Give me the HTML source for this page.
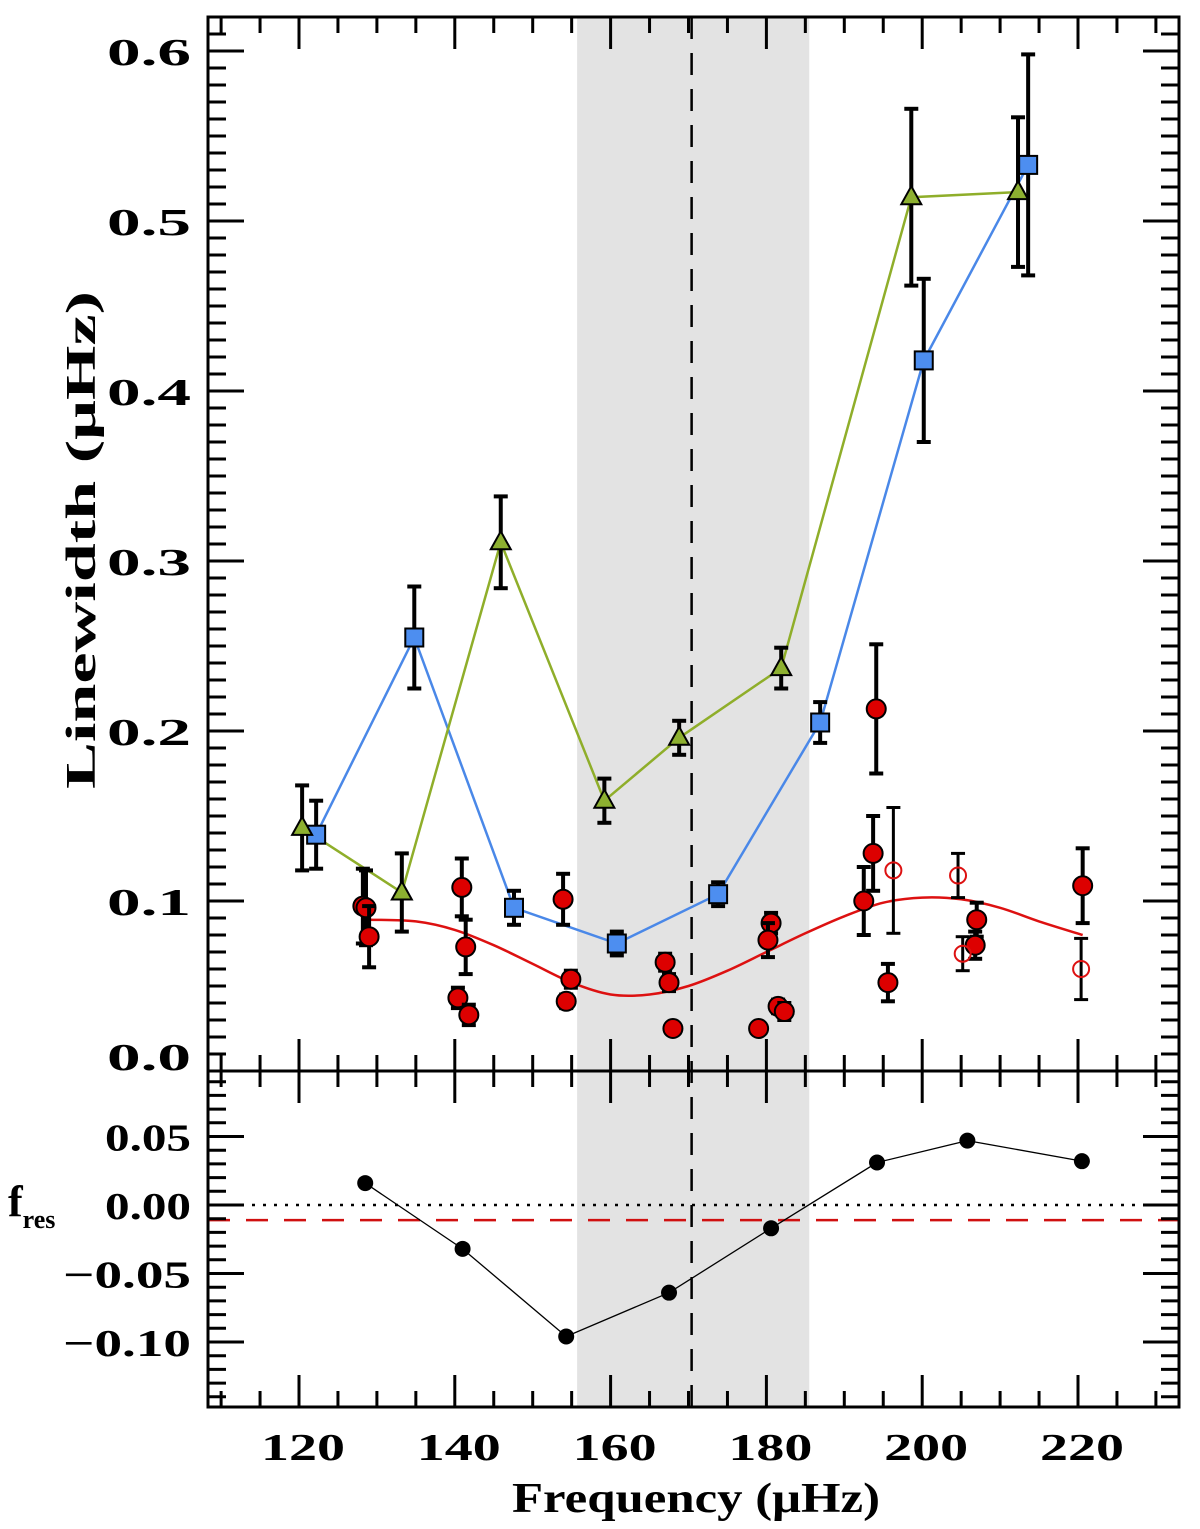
<!DOCTYPE html>
<html><head><meta charset="utf-8">
<style>
html,body{margin:0;padding:0;background:#fff;}
svg{display:block;}
text{font-family:"Liberation Serif",serif;font-weight:bold;fill:#000;}
</style></head>
<body>
<svg id="chart" width="1200" height="1529" viewBox="0 0 1200 1529" xmlns="http://www.w3.org/2000/svg">
<g id="layer"></g>
</svg>
<script>
// ---- data ----
const triFreq = [120.4,133.2,145.9,159.2,168.8,181.9,198.6,212.3];
const triVal  = [0.143,0.105,0.311,0.159,0.196,0.237,0.514,0.517];
const triErr  = [0.025,0.023,0.027,0.013,0.010,0.012,0.052,0.044];
const sqFreq = [122.2,134.8,147.6,160.8,173.8,186.9,200.2,213.6];
const sqVal  = [0.139,0.255,0.096,0.075,0.104,0.205,0.418,0.533];
const sqErr  = [0.020,0.030,0.010,0.007,0.007,0.012,0.048,0.065];
const redFreq = [128.2,128.6,129.0,140.9,141.4,140.4,141.8,153.9,154.9,154.3,167.0,167.5,168.0,180.6,180.2,179.0,181.5,182.3,193.7,192.5,195.6,207.0,206.8,220.6,194.1];
const redVal  = [0.097,0.096,0.079,0.108,0.073,0.043,0.033,0.101,0.054,0.041,0.064,0.052,0.025,0.087,0.077,0.025,0.038,0.035,0.128,0.100,0.052,0.089,0.074,0.109,0.213];
const redErr  = [0.022,0.022,0.018,0.017,0.016,0.006,0.006,0.015,0.005,0.004,0.005,0.005,0.002,0.006,0.010,0.002,0.004,0.005,0.022,0.020,0.011,0.010,0.008,0.022,0.038];
const openFreq = [196.3,204.6,205.2,220.4];
const openVal  = [0.118,0.115,0.069,0.060];
const openErr  = [0.037,0.013,0.010,0.018];
const fitFreq = [129.1,135,140,145,150,155,160,165,170,175,180,185,190,195,200,205,210,215,220.6];
const fitVal  = [0.089,0.088,0.083,0.074,0.063,0.052,0.045,0.045,0.050,0.059,0.070,0.081,0.091,0.099,0.102,0.101,0.096,0.088,0.080];
const resFreq = [128.5,141.0,154.3,167.5,180.6,194.2,205.8,220.5];
const resVal  = [0.016,-0.032,-0.096,-0.064,-0.017,0.031,0.047,0.032];
const yTicksTop = [0.0,0.1,0.2,0.3,0.4,0.5,0.6];
const yTickLabelsTop = ["0.0","0.1","0.2","0.3","0.4","0.5","0.6"];
const yTicksBot = [0.05,0.0,-0.05,-0.10];
const yTickLabelsBot = ["0.05","0.00","\u22120.05","\u22120.10"];
const xTicks = [120,140,160,180,200,220];
const xTickLabels = ["120","140","160","180","200","220"];
const band = [155.7,185.5];
const dashX = 170.4;
const redLevel = -0.011;

// ---- geometry ----
const L=208,R=1179,T=17,MID=1071,B=1407;
const X=v=>299+(v-120)*7.79;
const YT=v=>1071-v*1700;
const YB=v=>1205-v*1370;
const NS="http://www.w3.org/2000/svg";
const g=document.getElementById('layer');
function el(tag,attrs,parent){const e=document.createElementNS(NS,tag);for(const k in attrs)e.setAttribute(k,attrs[k]);(parent||g).appendChild(e);return e;}
function smooth(pts){
  let d='M'+pts[0][0]+','+pts[0][1];
  for(let i=0;i<pts.length-1;i++){
    const p0=pts[i-1]||pts[i],p1=pts[i],p2=pts[i+1],p3=pts[i+2]||p2;
    const c1=[p1[0]+(p2[0]-p0[0])/6,p1[1]+(p2[1]-p0[1])/6];
    const c2=[p2[0]-(p3[0]-p1[0])/6,p2[1]-(p3[1]-p1[1])/6];
    d+=` C${c1[0]},${c1[1]} ${c2[0]},${c2[1]} ${p2[0]},${p2[1]}`;
  }
  return d;
}

let e;
e=el('rect',{x:X(band[0]),y:T,width:X(band[1])-X(band[0]),height:B-T,fill:'#e3e3e3'});


e=el('line',{x1:X(dashX),x2:X(dashX),y1:T,y2:B,stroke:'#000','stroke-width':2.5,'stroke-dasharray':'22,14'});



e=el('path',{d:smooth(fitFreq.map((f,i)=>[X(f),YT(fitVal[i])])),fill:'none',stroke:'#dd1111','stroke-width':2.5});



e=el('polyline',{points:sqFreq.map((f,i)=>X(f)+','+YT(sqVal[i])).join(' '),fill:'none',stroke:'#4a88e8','stroke-width':2.5});


e=el('polyline',{points:triFreq.map((f,i)=>X(f)+','+YT(triVal[i])).join(' '),fill:'none',stroke:'#8fae2a','stroke-width':2.5});



function errbar(x,v,er,w){
  const grp=el('g',{stroke:'#000','stroke-width':w||4});
  el('line',{x1:x,x2:x,y1:YT(v+er),y2:YT(v-er)},grp);
  el('line',{x1:x-7,x2:x+7,y1:YT(v+er),y2:YT(v+er)},grp);
  el('line',{x1:x-7,x2:x+7,y1:YT(v-er),y2:YT(v-er)},grp);
  return grp;
}
redFreq.forEach((f,i)=>{
  const eb=errbar(X(f),redVal[i],redErr[i]);
  
  
  const c=el('circle',{cx:X(f),cy:YT(redVal[i]),r:9.5,fill:'#dd0000',stroke:'#000','stroke-width':2});
  
  
});
openFreq.forEach((f,i)=>{
  const eb=errbar(X(f),openVal[i],openErr[i],3);
  
  
  const c=el('circle',{cx:X(f),cy:YT(openVal[i]),r:8,fill:'none',stroke:'#dd1111','stroke-width':2});
  
  
});
sqFreq.forEach((f,i)=>{
  const eb=errbar(X(f),sqVal[i],sqErr[i]);
  
  
  const s=el('rect',{x:X(f)-9,y:YT(sqVal[i])-9,width:18,height:18,fill:'#4d8ef0',stroke:'#000','stroke-width':2});
  
  
});
triFreq.forEach((f,i)=>{
  const eb=errbar(X(f),triVal[i],triErr[i]);
  
  
  const x=X(f),y=YT(triVal[i]);
  const t=el('polygon',{points:`${x},${y-11} ${x-10},${y+7} ${x+10},${y+7}`,fill:'#8db030',stroke:'#000','stroke-width':2});
  
  
});

e=el('line',{x1:L,x2:R,y1:YB(0),y2:YB(0),stroke:'#000','stroke-width':2.5,'stroke-dasharray':'3,8'});


e=el('line',{x1:L,x2:R,y1:YB(redLevel),y2:YB(redLevel),stroke:'#d01010','stroke-width':2.5,'stroke-dasharray':'22,16'});


e=el('polyline',{points:resFreq.map((f,i)=>X(f)+','+YB(resVal[i])).join(' '),fill:'none',stroke:'#000','stroke-width':1.3});


resFreq.forEach((f,i)=>{
  const c=el('circle',{cx:X(f),cy:YB(resVal[i]),r:8,fill:'#000'});
  
  
});

const ax=el('g',{stroke:'#000','stroke-width':3,fill:'none'});


el('rect',{x:L,y:T,width:R-L,height:B-T},ax);
el('line',{x1:L,x2:R,y1:MID,y2:MID},ax);
for(let v=110;v<=233;v+=5){
  const x=X(v); if(x<L||x>R) continue;
  const major=v%20===0, len=major?32:16;
  [[T,1],[MID,-1],[MID,1],[B,-1]].forEach(([y,d])=>el('line',{x1:x,x2:x,y1:y,y2:y+d*len},ax));
}
for(let k=0;k<=62;k++){
  const v=k/100,y=YT(v);if(y<T)continue;
  const len=(k%10===0)?36:18;
  el('line',{x1:L,x2:L+len,y1:y,y2:y},ax);
  el('line',{x1:R,x2:R-len,y1:y,y2:y},ax);
}
for(let k=-14;k<=9;k++){
  const v=k/100,y=YB(v);if(y>B||y<MID)continue;
  const len=(k%5===0)?36:18;
  el('line',{x1:L,x2:L+len,y1:y,y2:y},ax);
  el('line',{x1:R,x2:R-len,y1:y,y2:y},ax);
}
yTicksTop.forEach((v,i)=>{
  let y=YT(v)+14; if(v===0) y=1070;
  const t=el('text',{x:191,y:y,'font-size':38,'text-anchor':'end',textLength:84,lengthAdjust:'spacingAndGlyphs'});t.textContent=yTickLabelsTop[i];
  
  
});
yTicksBot.forEach((v,i)=>{
  const s=yTickLabelsBot[i];
  const t=el('text',{x:191,y:YB(v)+14,'font-size':38,'text-anchor':'end',textLength:s.length>4?128:86,lengthAdjust:'spacingAndGlyphs'});t.textContent=s;
  
  
});
xTicks.forEach((v,i)=>{
  const t=el('text',{x:X(v)+4,y:1460,'font-size':38,'text-anchor':'middle',textLength:84,lengthAdjust:'spacingAndGlyphs'});t.textContent=xTickLabels[i];
  
  
});
let t=el('text',{x:696,y:1512,'font-size':42,'text-anchor':'middle',textLength:368,lengthAdjust:'spacingAndGlyphs'});
t.textContent='Frequency (\u03BCHz)';


t=el('text',{x:0,y:0,'font-size':42,'text-anchor':'middle',textLength:498,lengthAdjust:'spacingAndGlyphs',transform:'translate(95,540) rotate(-90)'});
t.textContent='Linewidth (\u03BCHz)';


t=el('text',{x:8,y:1216,'font-size':44});
t.textContent='f';


const sub=el('tspan',{'font-size':26,dy:12},t);sub.textContent='res';
</script>
</body></html>
